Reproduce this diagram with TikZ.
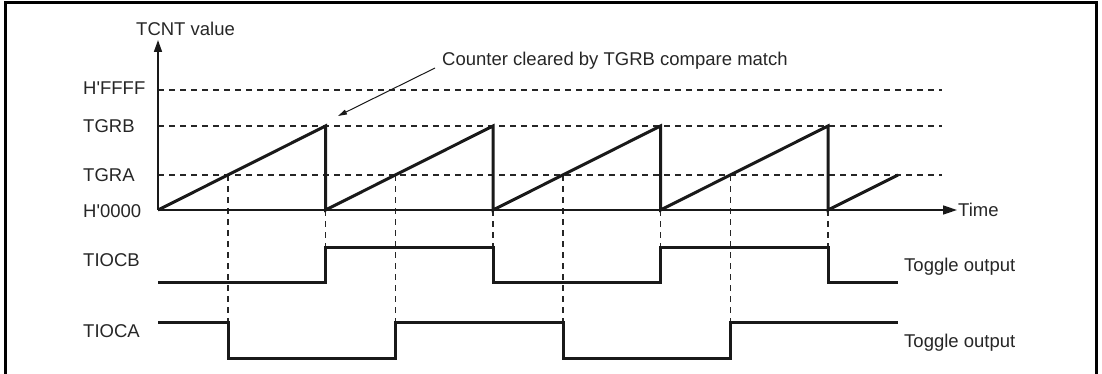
\documentclass[tikz,border=0pt]{standalone}
\usepackage{fontspec}
\newfontfamily\lsans{Liberation Sans}
\usetikzlibrary{arrows.meta}
\begin{document}
\begin{tikzpicture}[x=1pt,y=-1pt,
  lbl/.style={font=\lsans\fontsize{18.5}{22}\selectfont, text=black!85, inner sep=0pt, anchor=base west},
  wave/.style={line width=3pt, line join=miter, draw=black!90},
  axis/.style={line width=1.6pt, draw=black!90},
  guide/.style={line width=1.3pt, dash pattern=on 6pt off 5pt, draw=black!85},
  frame/.style={line width=3pt, draw=black}]
\useasboundingbox (0,0) rectangle (1102,374);
% frame
\coordinate (fbl) at (5,374);
\coordinate (ftl) at (5,2.5);
\coordinate (ftr) at (1096.5,2.5);
\coordinate (fbr) at (1096.5,374);
\draw[frame] (fbl) -- (ftl) -- (ftr) -- (fbr);
% key coordinates
\coordinate (O) at (158,210);
\coordinate (ytop) at (158,40);
\coordinate (xend) at (957,210);
\foreach \n/\y in {ffff/90, tgrb/126, tgra/175} {
  \coordinate (\n L) at (158,\y);
  \coordinate (\n R) at (942,\y);
  \draw[guide] (\n L) -- (\n R);
}
% vertical guides at counter clears
\foreach \x [count=\i] in {325.5,493,660.5,828} {
  \coordinate (clrT\i) at (\x,210);
  \coordinate (clrB\i) at (\x,247);
  \draw[guide] (clrT\i) -- (clrB\i);
}
% vertical guides at TGRA compare matches
\foreach \x [count=\i] in {228,395.5,563,730.5} {
  \coordinate (cmpT\i) at (\x,175);
  \coordinate (cmpB\i) at (\x,322);
  \draw[guide] (cmpT\i) -- (cmpB\i);
}
% axes
\draw[axis,-{Triangle[length=12pt,width=8pt]}] (O) -- (ytop);
\draw[axis,-{Triangle[length=14pt,width=9pt]}] (O) -- (xend);
% TCNT sawtooth
\draw[wave] (158,210) -- (325.5,126) -- (325.5,210) -- (493,126) -- (493,210)
  -- (660.5,126) -- (660.5,210) -- (828,126) -- (828,210) -- (898,175);
% TIOCB
\draw[wave] (158,282) -- (325.5,282) -- (325.5,247) -- (493,247) -- (493,282)
  -- (660.5,282) -- (660.5,247) -- (828,247) -- (828,282) -- (898,282);
% TIOCA
\draw[wave] (158,322) -- (228,322) -- (228,358) -- (395.5,358) -- (395.5,322)
  -- (563,322) -- (563,358) -- (730.5,358) -- (730.5,322) -- (898,322);
% labels
\node[lbl] (tcnt) at (136,35.7) {TCNT value};
\node[lbl] (lffff) at (83,94.5) {H'FFFF};
\node[lbl] (ltgrb) at (83,133) {TGRB};
\node[lbl] (ltgra) at (83,181.5) {TGRA};
\node[lbl] (l0000) at (83,217) {H'0000};
\node[lbl] (ltiocb) at (83,266.5) {TIOCB};
\node[lbl] (ltioca) at (83,337) {TIOCA};
\node[lbl] (ltime) at (958,216) {Time};
\node[lbl] (tog1) at (904,271) {Toggle output};
\node[lbl] (tog2) at (904,347) {Toggle output};
\node[lbl] (note) at (442,66) {Counter cleared by TGRB compare match};
% annotation arrow
\coordinate (noteS) at (435,68);
\coordinate (noteE) at (338,116);
\draw[line width=1pt, draw=black!90, -{Triangle[length=9pt,width=5pt]}] (noteS) -- (noteE);
\end{tikzpicture}
\end{document}
